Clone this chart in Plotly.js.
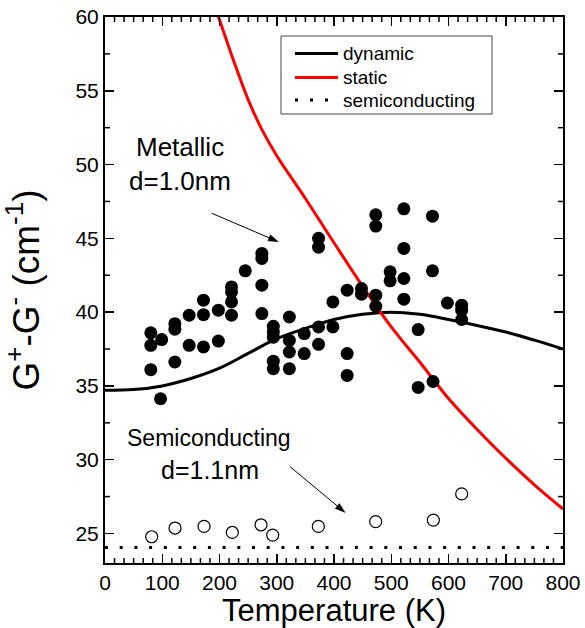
<!DOCTYPE html>
<html>
<head>
<meta charset="utf-8">
<script src="https://cdn.plot.ly/plotly-3.0.1.min.js"></script>
<style>html,body{margin:0;padding:0;background:#fff;}#chart{width:585px;height:628px;}</style>
</head>
<body>
<div id="chart"></div>
<script>
// ---- data ----
const dynamicT = [0, 50, 100, 150, 200, 250, 300, 350, 400, 450, 500, 550, 600, 650, 700, 750, 800];
const dynamicV = [34.7, 34.75, 35.0, 35.5, 36.2, 37.2, 38.2, 38.9, 39.5, 39.85, 40.0, 39.85, 39.5, 39.1, 38.65, 38.1, 37.5];

const staticT = [195, 200, 225, 250, 275, 300, 350, 400, 450, 500, 550, 600, 650, 700, 750, 800];
const staticV = [60.3, 59.8, 57.0, 54.4, 52.3, 50.6, 47.7, 44.7, 41.75, 39.0, 36.6, 34.15, 32.05, 30.1, 28.3, 26.66];

const semiLineT = [0, 800];
const semiLineV = [24.05, 24.05];

const metallicT = [80, 80, 99, 80, 97,
  122, 122, 122,
  147, 147,
  172, 172, 172,
  198, 198,
  221, 221, 221, 221,
  245,
  274, 274, 274, 274,
  294, 294, 294, 294, 294,
  322, 322, 322, 322,
  348, 348,
  373, 373, 373, 373,
  398, 398,
  423, 423, 423,
  448, 448,
  473, 473, 473, 473,
  498, 498,
  522, 522, 522, 522,
  547, 547,
  572, 572, 573,
  598,
  623, 623, 623];
const metallicV = [38.6, 37.75, 38.14, 36.1, 34.13,
  39.22, 38.84, 36.62,
  39.79, 37.75,
  40.81, 39.83, 37.64,
  40.13, 38.04,
  41.71, 41.37, 40.69, 39.79,
  42.8,
  43.98, 43.64, 41.83, 39.9,
  39.04, 38.65, 38.3, 36.68, 36.17,
  39.67, 38.09, 37.3, 36.17,
  38.55, 37.19,
  45.0, 44.4, 39.0, 37.82,
  40.69, 39.0,
  41.49, 37.19, 35.71,
  41.6, 41.22,
  46.6, 45.83, 41.15, 40.4,
  42.73, 42.12,
  47.0, 44.32, 42.28, 40.88,
  38.82, 34.9,
  46.5, 42.8, 35.3,
  40.62,
  40.47, 40.13, 39.5];

const semiT = [81.5, 122.3, 173, 222.4, 272.5, 292.9, 372.6, 472.8, 573.5, 623];
const semiV = [24.78, 25.37, 25.48, 25.07, 25.59, 24.89, 25.48, 25.8, 25.91, 27.68];

const legendNames = ['dynamic', 'static', 'semiconducting'];

// arrows: [tailT, tailV, headT, headV]
const arrowMetallic = [186.4, 46.7, 302.7, 44.77];
const arrowSemi = [323.1, 29.53, 419.2, 26.43];

// ---- geometry ----
const W = 585, H = 628, L = 105, R = 22, T = 17, B = 65;
const PW = W - L - R, PH = H - T - B;
const XR = [0, 800], YR = [23, 60];
const XMAJOR = 100, XMINOR = 100 / 6, YMAJOR = 5, YMINOR = 2.5;
const px = x => (x - L) / PW;
const py = y => (H - B - y) / PH;
const d2px = (t, v) => [L + (t - XR[0]) / (XR[1] - XR[0]) * PW, T + (YR[1] - v) / (YR[1] - YR[0]) * PH];
const px2d = (x, y) => [XR[0] + (x - L) / PW * (XR[1] - XR[0]), YR[1] - (y - T) / PH * (YR[1] - YR[0])];

const FONT = 'Liberation Sans, Arial, Helvetica, sans-serif';

const traces = [
  {x: dynamicT, y: dynamicV, name: legendNames[0], mode: 'lines',
   line: {color: '#000', width: 3, shape: 'spline'}},
  {x: staticT, y: staticV, name: legendNames[1], mode: 'lines',
   line: {color: '#ff0000', width: 3, shape: 'spline'}},
  {x: semiLineT, y: semiLineV, name: legendNames[2], mode: 'lines',
   line: {color: '#000', width: 3, dash: '3px,11.7px'}},
  {x: metallicT, y: metallicV, name: 'Metallic', mode: 'markers',
   marker: {color: '#000', size: 13, symbol: 'circle'}},
  {x: semiT, y: semiV, name: 'Semiconducting', mode: 'markers',
   marker: {color: '#000', size: 12, symbol: 'circle-open', line: {width: 1.2, color: '#000'}}}
];

function arrowShapes(a) {
  const [x0, y0] = d2px(a[0], a[1]);
  const [x1, y1] = d2px(a[2], a[3]);
  const len = Math.hypot(x1 - x0, y1 - y0);
  const ux = (x1 - x0) / len, uy = (y1 - y0) / len;
  const hl = 10, hw = 3.2;
  const bx = x1 - ux * hl, by = y1 - uy * hl;
  const p1 = px2d(bx - uy * hw, by + ux * hw);
  const p2 = px2d(bx + uy * hw, by - ux * hw);
  const base = px2d(bx, by);
  return [
    {type: 'line', xref: 'x', yref: 'y', x0: a[0], y0: a[1], x1: base[0], y1: base[1],
     line: {color: '#000', width: 1}},
    {type: 'path', xref: 'x', yref: 'y',
     path: `M${a[2]},${a[3]} L${p1[0]},${p1[1]} L${p2[0]},${p2[1]} Z`,
     fillcolor: '#000', line: {color: '#000', width: 0.5}}
  ];
}

// minor ticks (axis decoration, derived from the axis ranges)
function minorTicks() {
  const out = [];
  const tl = 5, lw = 1.5;
  const n = Math.round((XR[1] - XR[0]) / XMINOR);
  for (let i = 1; i < n; i++) {
    if (i % Math.round(XMAJOR / XMINOR) === 0) continue;
    const t = XR[0] + i * XMINOR;
    out.push({type: 'line', xref: 'x', yref: 'paper', x0: t, x1: t, y0: 0, y1: tl / PH, line: {color: '#000', width: lw}});
    out.push({type: 'line', xref: 'x', yref: 'paper', x0: t, x1: t, y0: 1, y1: 1 - tl / PH, line: {color: '#000', width: lw}});
  }
  for (let v = Math.ceil(YR[0] / YMINOR) * YMINOR; v < YR[1]; v += YMINOR) {
    if (Math.abs(v / YMAJOR - Math.round(v / YMAJOR)) < 1e-6) continue;
    out.push({type: 'line', xref: 'paper', yref: 'y', x0: 0, x1: tl / PW, y0: v, y1: v, line: {color: '#000', width: lw}});
    out.push({type: 'line', xref: 'paper', yref: 'y', x0: 1, x1: 1 - tl / PW, y0: v, y1: v, line: {color: '#000', width: lw}});
  }
  return out;
}

const rowY = [53.5, 77.5, 100];
const shapes = [
  {type: 'rect', xref: 'paper', yref: 'paper', x0: px(281), x1: px(492), y0: py(114), y1: py(36),
   line: {color: '#444', width: 1}, fillcolor: 'rgba(255,255,255,0)'},
  {type: 'line', xref: 'paper', yref: 'paper', x0: px(295), x1: px(338), y0: py(rowY[0]), y1: py(rowY[0]),
   line: {color: '#000', width: 3}},
  {type: 'line', xref: 'paper', yref: 'paper', x0: px(295), x1: px(338), y0: py(rowY[1]), y1: py(rowY[1]),
   line: {color: '#ff0000', width: 3}},
  {type: 'line', xref: 'paper', yref: 'paper', x0: px(295), x1: px(338), y0: py(rowY[2]), y1: py(rowY[2]),
   line: {color: '#000', width: 3, dash: '3px,12px'}}
].concat(arrowShapes(arrowMetallic), arrowShapes(arrowSemi), minorTicks());

const annotations = legendNames.map((n, i) => ({
  xref: 'paper', yref: 'paper', x: px(341), y: py(rowY[i]), xanchor: 'left', yanchor: 'middle',
  text: n, showarrow: false, font: {family: FONT, size: 19, color: '#000'}
}));

annotations.push(
  {x: 131, y: 51.2, xref: 'x', yref: 'y', text: 'Metallic', showarrow: false,
   font: {family: FONT, size: 26, color: '#000'}},
  {x: 131, y: 48.9, xref: 'x', yref: 'y', text: 'd=1.0nm', showarrow: false,
   font: {family: FONT, size: 26, color: '#000'}},
  {x: 182.5, y: 31.5, xref: 'x', yref: 'y', text: 'Semiconducting', showarrow: false,
   font: {family: FONT, size: 23, color: '#000'}},
  {x: 183.4, y: 29.33, xref: 'x', yref: 'y', text: 'd=1.1nm', showarrow: false,
   font: {family: FONT, size: 25, color: '#000'}}
);

const axisCommon = {
  showgrid: false, zeroline: false, showline: true, linecolor: '#000', linewidth: 2,
  mirror: 'allticks', ticks: 'inside', ticklen: 9, tickwidth: 1.5, tickcolor: '#000',
  tickfont: {family: FONT, size: 21, color: '#000'}
};

const layout = {
  width: W, height: H,
  margin: {l: L, r: R, t: T, b: B, pad: 0},
  paper_bgcolor: '#fff', plot_bgcolor: '#fff',
  showlegend: false,
  font: {family: FONT, color: '#000'},
  xaxis: Object.assign({}, axisCommon, {
    range: XR, tick0: 0, dtick: XMAJOR,
    title: {text: 'Temperature (K)', font: {family: FONT, size: 31, color: '#000'}, standoff: 5}
  }),
  yaxis: Object.assign({}, axisCommon, {
    range: YR, tick0: 0, dtick: YMAJOR,
    title: {text: 'G<sup>+</sup>-G<sup>-</sup> (cm<sup>-1</sup>)', font: {family: FONT, size: 37, color: '#000'}, standoff: 27}
  }),
  shapes: shapes,
  annotations: annotations
};

Plotly.newPlot('chart', traces, layout, {displayModeBar: false, staticPlot: true});
</script>
</body>
</html>
